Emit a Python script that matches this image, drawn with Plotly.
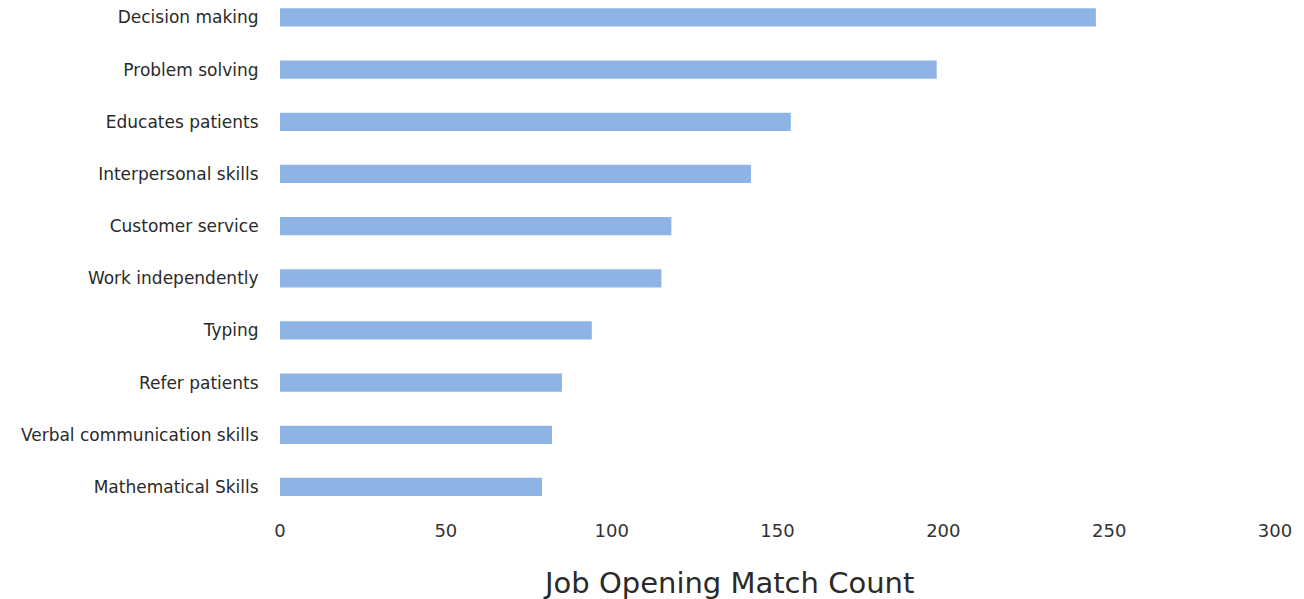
import plotly.graph_objects as go

skills = [
    "Decision making",
    "Problem solving",
    "Educates patients",
    "Interpersonal skills",
    "Customer service",
    "Work independently",
    "Typing",
    "Refer patients",
    "Verbal communication skills",
    "Mathematical Skills",
]
counts = [246, 198, 154, 142, 118, 115, 94, 85, 82, 79]
x_ticks = [0, 50, 100, 150, 200, 250, 300]
x_title = "Job Opening Match Count"

# plot from bottom to top
cats = skills[::-1]
vals = counts[::-1]

fig = go.Figure(
    go.Bar(
        x=vals,
        y=cats,
        orientation="h",
        marker=dict(color="#8db4e5", line=dict(width=0)),
        width=0.35,
    )
)

fig.update_layout(
    width=1304,
    height=599,
    margin=dict(l=272, r=37, t=0, b=94),
    paper_bgcolor="white",
    plot_bgcolor="white",
    showlegend=False,
    font=dict(family="DejaVu Sans", color="#2a2a2a"),
    xaxis=dict(
        range=[0, 300],
        tickvals=x_ticks,
        showgrid=False,
        zeroline=False,
        showline=False,
        ticks="outside",
        ticklen=1,
        tickcolor="rgba(0,0,0,0)",
        tickfont=dict(size=18, color="#333333"),
    ),
    yaxis=dict(
        type="category",
        range=[-0.5, 9.182],
        showgrid=False,
        zeroline=False,
        showline=False,
        ticks="outside",
        ticklen=17,
        tickcolor="rgba(0,0,0,0)",
        tickfont=dict(size=17, color="#2a2a2a"),
    ),
    annotations=[
        dict(
            text=x_title,
            xref="paper",
            yref="paper",
            x=0.451,
            y=-0.1386,
            xanchor="center",
            yanchor="middle",
            showarrow=False,
            font=dict(size=29, color="#2a2a2a"),
        )
    ],
)

fig.write_html("out.html")
